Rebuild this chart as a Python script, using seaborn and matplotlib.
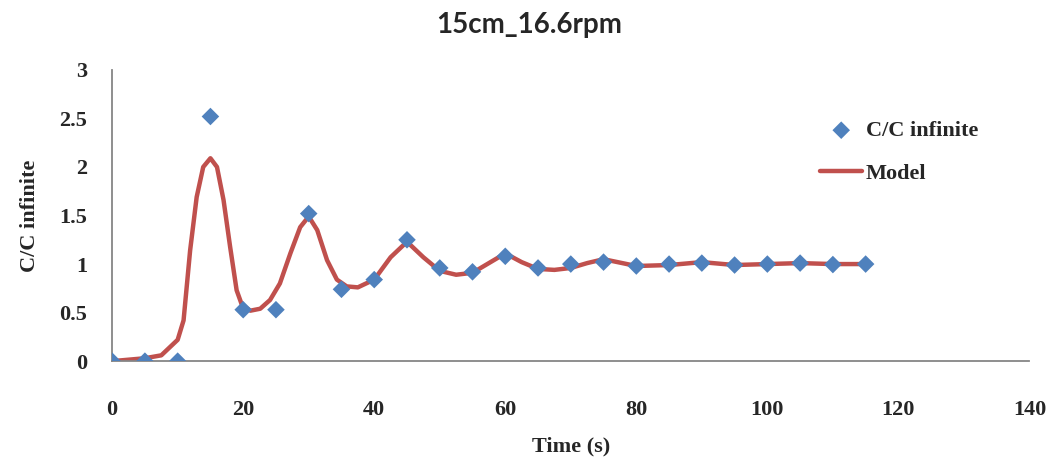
import matplotlib
matplotlib.use("Agg")
import matplotlib.pyplot as plt
import seaborn as sns
import pandas as pd

# measured C/C infinite, every 5 s
time_s = [0, 5, 10, 15, 20, 25, 30, 35, 40, 45, 50, 55, 60, 65, 70, 75,
          80, 85, 90, 95, 100, 105, 110, 115]
c_ratio = [0, 0, 0, 2.52, 0.53, 0.53, 1.52, 0.74, 0.84, 1.25, 0.96, 0.92,
           1.08, 0.96, 1.00, 1.02, 0.98, 1.00, 1.01, 0.99, 1.00, 1.01, 0.995, 1.00]

# model curve
model_t = [0, 5, 7.5, 10, 10.9, 11.9, 12.9, 13.9, 15, 16, 17, 18, 19, 19.8,
           21.1, 22.6, 24.1, 25.6, 27.2, 28.7, 30, 31.3, 32.8, 34.3, 35.8,
           37.5, 40, 42.5, 45, 47.5, 50, 52.5, 55, 57.5, 60, 62.5, 65,
           67.5, 70, 72.5, 75, 80, 85, 90, 95, 100, 105, 110, 115]
model_c = [0, 0.03, 0.06, 0.22, 0.42, 1.14, 1.69, 2.00, 2.09, 2.00, 1.66, 1.18,
           0.73, 0.58, 0.52, 0.54, 0.63, 0.80, 1.11, 1.38, 1.49, 1.35, 1.04,
           0.84, 0.77, 0.76, 0.84, 1.07, 1.23, 1.07, 0.93, 0.89, 0.91, 1.01,
           1.11, 1.02, 0.95, 0.94, 0.96, 1.01, 1.05, 0.98, 0.99, 1.02, 0.99,
           1.00, 1.01, 1.00, 1.00]

x_ticks = [0, 20, 40, 60, 80, 100, 120, 140]
y_ticks = [0, 0.5, 1, 1.5, 2, 2.5, 3]
y_tick_labels = ["0", "0.5", "1", "1.5", "2", "2.5", "3"]

sns.set_style("white")
plt.rcParams["font.family"] = ["Liberation Serif", "DejaVu Serif"]

points = pd.DataFrame({"t": time_s, "c": c_ratio})
model = pd.DataFrame({"t": model_t, "c": model_c})

fig = plt.figure(figsize=(10.58, 4.66), dpi=100)
ax = fig.add_axes([0.106, 0.225, 0.867, 0.625])

sns.lineplot(data=model, x="t", y="c", ax=ax, color="#C0504D", linewidth=3.2,
             label="Model", zorder=2)
sns.scatterplot(data=points, x="t", y="c", ax=ax, marker="D", s=80,
                color="#4F81BD", edgecolor="none", label="C/C infinite", zorder=3)

ax.set_xlim(0, 140)
ax.set_ylim(0, 3)
ax.set_xticks(x_ticks)
ax.set_yticks(y_ticks)
ax.set_yticklabels(y_tick_labels)
ax.tick_params(axis="x", length=0, pad=28, labelsize=16)
ax.tick_params(axis="y", length=0, pad=18, labelsize=16)
for lbl in ax.get_xticklabels() + ax.get_yticklabels():
    lbl.set_fontweight("bold")

for side in ["top", "right"]:
    ax.spines[side].set_visible(False)
for side in ["left", "bottom"]:
    ax.spines[side].set_color("#868686")
    ax.spines[side].set_linewidth(1.3)

ax.set_xlabel("Time (s)", fontsize=16, fontweight="bold", labelpad=12)
ax.set_ylabel("C/C infinite", fontsize=16, fontweight="bold", labelpad=14)

fig.suptitle("15cm_16.6rpm", x=0.5, y=0.975, fontsize=20, fontweight="bold",
             family=["Lato", "DejaVu Sans"])

handles, labels = ax.get_legend_handles_labels()
order = [labels.index("C/C infinite"), labels.index("Model")]
leg = ax.legend([handles[i] for i in order], [labels[i] for i in order],
                loc="upper left", bbox_to_anchor=(0.75, 0.895), frameon=False,
                prop={"size": 16, "weight": "bold"}, handlelength=1.9,
                handletextpad=0.15, labelspacing=1.0)

fig.savefig("out.png", dpi=100)
